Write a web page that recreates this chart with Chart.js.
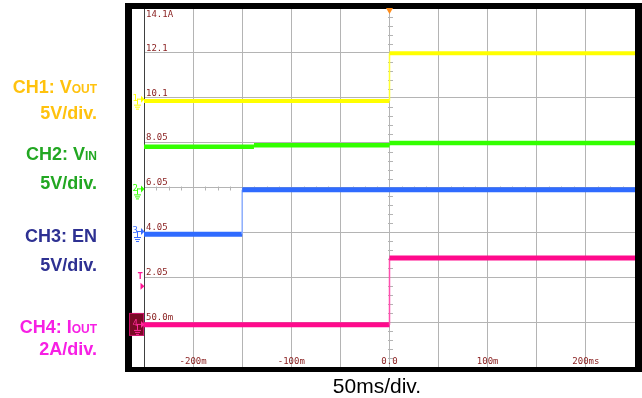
<!DOCTYPE html>
<html>
<head>
<meta charset="utf-8">
<title>Power-up sequence</title>
<script src="https://cdn.jsdelivr.net/npm/chart.js@4.4.1/dist/chart.umd.min.js"></script>
<style>
  html, body { margin: 0; padding: 0; background: #fff; }
  body { width: 642px; height: 398px; position: relative; overflow: hidden;
         font-family: "Liberation Sans", Arial, sans-serif; }
  #scope { position: absolute; left: 0; top: 0; }
  .ch { position: absolute; right: 545px; font-weight: bold; font-size: 18px;
        line-height: 18px; white-space: nowrap; text-align: right; }
  .ch .s { font-size: 12px; }
  #timebase { position: absolute; left: 277px; width: 200px; top: 375px;
              text-align: center; font-size: 21px; line-height: 21px; color: #000; }
</style>
</head>
<body>
<canvas id="scope" width="642" height="398"></canvas>

<div class="ch" style="top:78px;color:#ffc20e">CH1: V<span class="s">OUT</span></div>
<div class="ch" style="top:104px;color:#ffc20e">5V/div.</div>
<div class="ch" style="top:145px;color:#22a722">CH2: V<span class="s">IN</span></div>
<div class="ch" style="top:174px;color:#22a722">5V/div.</div>
<div class="ch" style="top:227px;color:#2e3192">CH3: EN</div>
<div class="ch" style="top:256px;color:#2e3192">5V/div.</div>
<div class="ch" style="top:318px;color:#f71fe4">CH4: I<span class="s">OUT</span></div>
<div class="ch" style="top:340px;color:#f71fe4">2A/div.</div>
<div id="timebase">50ms/div.</div>

<script>
// Time in ms relative to the trigger, levels in screen divisions (0 = bottom graticule line)
const voutTime = [-250, 0, 0, 250];
const voutDiv  = [5.93, 5.93, 6.99, 6.99];
const vinTime  = [-250, -138, -138, 0, 0, 250];
const vinDiv   = [4.91, 4.91, 4.94, 4.94, 4.99, 4.99];
const enTime   = [-250, -150, -150, 250];
const enDiv    = [2.96, 2.96, 3.95, 3.95];
const ioutTime = [-250, 0, 0, 250];
const ioutDiv  = [0.94, 0.94, 2.43, 2.43];

// Graticule labels
const levelLabels    = ['', '50.0m', '2.05', '4.05', '6.05', '8.05', '10.1', '12.1', '14.1A'];
const timeTickValues = [-200, -100, 0, 100, 200];
const timeTickLabels = ['-200m', '-100m', '0.0', '100m', '200ms'];

// Channel ground references and trigger level, in divisions
const groundLevels = { ch1: 5.98, ch2: 3.98, ch3: 3.03, ch4: 0.96 };
const triggerLevel = 1.8;

const pts = (t, v) => t.map((x, i) => ({ x: x, y: v[i] }));

function trace(label, t, v, color, edgeColor, width) {
  return {
    label: label,
    data: pts(t, v),
    borderColor: color,
    borderWidth: width,
    pointRadius: 0,
    tension: 0,
    segment: {
      borderWidth: c => c.p0.parsed.x === c.p1.parsed.x ? 1.5 : width,
      borderColor: c => c.p0.parsed.x === c.p1.parsed.x ? edgeColor : color
    }
  };
}

// Axes sit on the graticule itself: no room reserved outside the plot
function flush(scale) {
  if (scale.isHorizontal()) scale.height = 0; else scale.width = 0;
  scale.paddingTop = 0; scale.paddingBottom = 0;
  scale.paddingLeft = 0; scale.paddingRight = 0;
}

function groundMarker(ctx, text, color, y) {
  ctx.save();
  ctx.fillStyle = color; ctx.strokeStyle = color; ctx.lineWidth = 1;
  ctx.font = '9px "DejaVu Sans Mono"';
  ctx.textBaseline = 'middle'; ctx.textAlign = 'left';
  ctx.fillText(text, 132.5, y);
  ctx.beginPath(); ctx.moveTo(137.5, y + 0.5); ctx.lineTo(141, y + 0.5); ctx.stroke();
  ctx.beginPath(); ctx.moveTo(141, y - 3); ctx.lineTo(144.5, y + 0.5); ctx.lineTo(141, y + 4);
  ctx.closePath(); ctx.fill();
  ctx.beginPath(); ctx.moveTo(137.5, y); ctx.lineTo(137.5, y + 6); ctx.stroke();
  ctx.beginPath();
  ctx.moveTo(134, y + 6.5); ctx.lineTo(141, y + 6.5);
  ctx.moveTo(135, y + 8.5); ctx.lineTo(140, y + 8.5);
  ctx.moveTo(136, y + 10.5); ctx.lineTo(139, y + 10.5);
  ctx.stroke();
  ctx.restore();
}

// Small subdivision marks on the centre cross of the graticule
const centreTicks = {
  id: 'centreTicks',
  beforeDatasetsDraw(chart) {
    const { ctx, scales: { x, y } } = chart;
    ctx.save();
    ctx.strokeStyle = '#b4b4b4'; ctx.lineWidth = 1;
    const cx = Math.round(x.getPixelForValue(0)) + 0.5;
    ctx.beginPath();
    for (let d = 0; d < 8; d++) {
      for (let k = 1; k < 5; k++) {
        const py = Math.round(y.getPixelForValue(d + k / 5)) + 0.5;
        ctx.moveTo(cx - 2.5, py); ctx.lineTo(cx + 2.5, py);
      }
    }
    const cy = Math.round(y.getPixelForValue(4)) + 0.5;
    for (let t = -250; t < 250; t += 50) {
      for (let k = 1; k < 4; k++) {
        const px = Math.round(x.getPixelForValue(t + k * 12.5)) + 0.5;
        ctx.moveTo(px, cy - 2); ctx.lineTo(px, cy + 2);
      }
    }
    ctx.stroke();
    ctx.restore();
  }
};

// Black bezel round the screen, plus channel / trigger markers
const bezel = {
  id: 'bezel',
  afterDraw(chart) {
    const { ctx, scales: { x, y } } = chart;
    ctx.save();
    ctx.fillStyle = '#000';
    ctx.fillRect(125, 3, 517, 6);     // top
    ctx.fillRect(125, 3, 7, 369);     // left
    ctx.fillRect(635, 3, 7, 369);     // right
    ctx.fillRect(125, 367, 517, 5);   // bottom

    groundMarker(ctx, '1', '#ffff00', y.getPixelForValue(groundLevels.ch1));
    groundMarker(ctx, '2', '#33ff00', y.getPixelForValue(groundLevels.ch2));
    groundMarker(ctx, '3', '#3a6cff', y.getPixelForValue(groundLevels.ch3));

    const y4 = y.getPixelForValue(groundLevels.ch4);
    ctx.fillStyle = '#7a0a26';
    ctx.fillRect(129.5, y4 - 10.5, 14, 22);
    ctx.strokeStyle = '#d0106a'; ctx.lineWidth = 1;
    ctx.strokeRect(129.5, y4 - 10.5, 14, 22);
    groundMarker(ctx, '4', '#ff2a9a', y4);

    // trigger level
    const yt = y.getPixelForValue(triggerLevel);
    ctx.fillStyle = '#ff1493';
    ctx.font = 'bold 9px "DejaVu Sans Mono"';
    ctx.textBaseline = 'middle'; ctx.textAlign = 'left';
    ctx.fillText('T', 137.5, yt - 10);
    ctx.beginPath(); ctx.moveTo(140.5, yt - 3.5); ctx.lineTo(144.5, yt); ctx.lineTo(140.5, yt + 3.5);
    ctx.closePath(); ctx.fill();

    // trigger position
    const xt = x.getPixelForValue(0);
    ctx.fillStyle = '#ff8c1a';
    ctx.beginPath(); ctx.moveTo(xt - 3.5, 8); ctx.lineTo(xt + 3.5, 8); ctx.lineTo(xt, 14);
    ctx.closePath(); ctx.fill();
    ctx.restore();
  }
};

new Chart(document.getElementById('scope'), {
  type: 'line',
  data: {
    datasets: [
      trace('CH1 VOUT', voutTime, voutDiv, '#ffff00', '#ffff30', 4),
      trace('CH2 VIN',  vinTime,  vinDiv,  '#33ff00', '#33ff00', 4.5),
      trace('CH3 EN',   enTime,   enDiv,   '#2f6bff', '#8fb0ff', 5),
      trace('CH4 IOUT', ioutTime, ioutDiv, '#ff0a8c', '#ff4fae', 5)
    ]
  },
  options: {
    responsive: false,
    animation: false,
    devicePixelRatio: 1,
    layout: { padding: { left: 144, top: 8, right: 7, bottom: 31 } },
    plugins: { legend: { display: false }, tooltip: { enabled: false } },
    scales: {
      x: {
        type: 'linear', min: -250, max: 250,
        afterFit: flush,
        grid: { color: '#b4b4b4', lineWidth: 1, drawTicks: false },
        border: { display: false },
        ticks: {
          stepSize: 50, autoSkip: false, maxRotation: 0, mirror: true, padding: 0,
          color: '#8b2323', font: { family: '"DejaVu Sans Mono"', size: 9 },
          callback: v => {
            const i = timeTickValues.indexOf(v);
            return i >= 0 ? timeTickLabels[i] : '';
          }
        }
      },
      y: {
        type: 'linear', min: 0, max: 8,
        afterFit: flush,
        grid: { color: '#b4b4b4', lineWidth: 1, drawTicks: false },
        border: { display: true, color: '#404040', width: 1 },
        ticks: {
          stepSize: 1, mirror: true, padding: 2, labelOffset: -4.5,
          color: '#8b2323', font: { family: '"DejaVu Sans Mono"', size: 9 },
          callback: v => v === 8 ? ['', '', levelLabels[8]] : levelLabels[v]
        }
      }
    }
  },
  plugins: [centreTicks, bezel]
});
</script>
</body>
</html>
